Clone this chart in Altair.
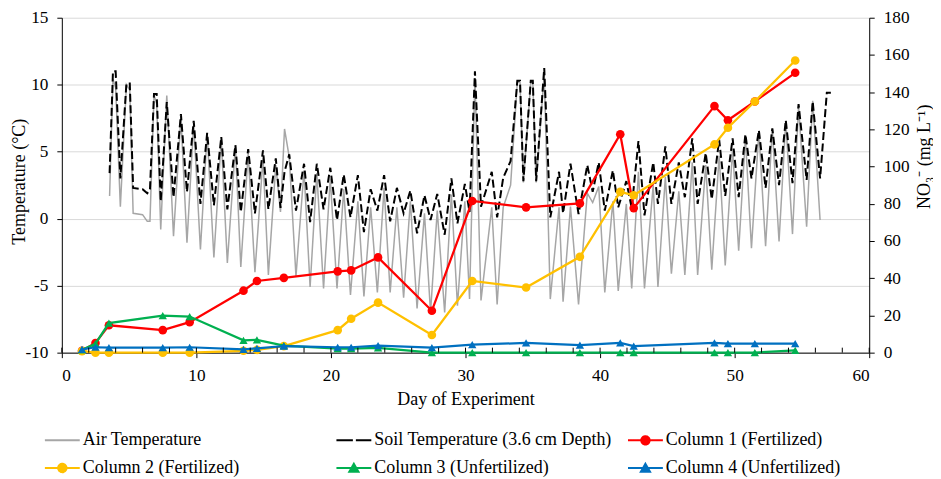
import altair as alt
import pandas as pd

# ---------------- data ----------------
day = [3.55, 3.8, 4.0, 4.35, 4.8, 5.05, 5.3, 6.0, 6.35, 6.55, 6.85, 7.05, 7.35, 7.8, 8.3, 8.85,
       9.3, 9.8, 10.3, 10.8, 11.3, 11.85, 12.3, 12.9, 13.3, 13.85, 14.35, 14.95, 15.35, 15.9,
       16.25, 16.55, 16.9, 17.4, 18.0, 18.45, 18.95, 19.45, 19.95, 20.45, 20.95, 21.45, 22.0,
       22.45, 22.95, 23.45, 23.95, 24.4, 24.9, 25.4, 25.9, 26.4, 26.95, 27.4, 27.9, 28.45,
       28.95, 29.4, 29.95, 30.3, 30.7, 31.15, 31.95, 32.35, 32.8, 33.35, 33.85, 34.05, 34.3,
       34.85, 35.0, 35.25, 35.85, 36.3, 36.95, 37.25, 37.8, 38.4, 39.05, 39.45, 39.9, 40.35,
       40.95, 41.35, 41.95, 42.35, 42.85, 43.3, 43.95, 44.3, 44.85, 45.3, 45.85, 46.3, 46.85,
       47.25, 47.85, 48.3, 48.85, 49.3, 49.85, 50.3, 50.8, 51.25, 51.8, 52.3, 52.8, 53.3, 53.8,
       54.3, 54.75, 55.35, 55.8, 56.35, 56.85, 57.15]

air = [1.7, 10.4, 9.8, 0.9, 10.0, 9.6, 0.4, 0.3, -0.2, -0.2, 9.2, 8.6, -0.8, 9.2, -1.3, 7.6,
       -1.8, 7.1, -2.3, 6.4, -2.9, 5.9, -3.3, 5.4, -3.6, 4.9, -4.0, 4.5, -4.2, 4.0,
       0.5, 6.7, 4.6, -4.3, 3.6, -5.1, 3.4, -5.2, 3.0, -5.2, 2.2, -5.7, 1.3,
       -5.8, 0.85, -5.5, 2.3, -5.5, 0.85, -5.9, 1.3, -6.7, 0.4, -7.0, 0.6, -7.0,
       1.8, -6.5, 1.3, -6.0, 10.5, -6.1, 0.85, -6.4, 0.85, 2.5, 10.2, 10.2, 2.7,
       10.2, 10.2, 2.7, 10.8, -6.0, 0.85, -6.2, 0.9, -6.4, 1.9, 1.2, 2.4, -5.5,
       1.3, -5.4, 1.1, -5.2, 3.5, -5.2, 2.5, -5.1, 3.1, -4.1, 2.05, -4.2, 4.2,
       -4.2, 4.0, -3.8, 4.7, -3.5, 5.2, -2.4, 6.1, -2.2, 6.5, -2.05, 6.7, -1.7, 7.3,
       -1.15, 8.4, -0.6, 8.8, -0.1, None, None]

soil = [3.4, 11.0, 11.0, 3.0, 10.1, 10.1, 2.3, 2.2, 1.9, 2.2, 9.3, 9.3, 1.3, 8.7, 1.6, 7.8,
        2.0, 7.3, 1.1, 6.4, 1.0, 6.1, 0.7, 5.5, 0.5, 5.2, 0.4, 5.1, 0.7, 4.5,
        0.8, 3.5, 4.8, 0.6, 4.1, -0.25, 4.1, 0.7, 3.8, -0.1, 3.3, 0.1, 3.25,
        -1.0, 2.2, 0.6, 3.25, -0.2, 2.3, 0.4, 2.1, -1.1, 1.75, -0.1, 1.85, -1.2,
        3.0, -0.35, 2.6, 0.5, 11.0, 0.9, 3.5, 0.1, 3.05, 4.3, 10.3, 10.3, 2.8,
        10.3, 10.3, 2.8, 11.25, 0.1, 3.5, 0.4, 4.1, 0.35, 4.0, 2.0, 4.2, 0.6,
        3.6, 0.85, 2.8, 0.8, 5.8, 0.25, 4.2, 1.1, 5.4, 1.1, 4.2, 1.6, 6.0,
        1.1, 4.9, 1.45, 5.9, 1.7, 6.0, 1.6, 6.3, 3.0, 6.6, 2.3, 6.75, 2.5, 7.35,
        2.65, 8.55, 2.9, 8.75, 3.0, 9.4, 9.4]

no3_day = [1.5, 2.5, 3.5, 7.5, 9.5, 13.5, 14.5, 16.5, 20.5, 21.5, 23.5, 27.5, 30.5, 34.5,
           38.5, 41.5, 42.5, 48.5, 49.5, 51.5, 54.5]
col1 = [1.0, 5.2, 14.7, 12.1, 16.4, 33.3, 38.5, 40.2, 43.7, 44.2, 51.2, 22.5, 81.5, 78.1,
        80.2, 117.4, 77.7, 132.5, 124.9, 135.0, 150.4]
col2 = [0.8, 0.0, 0.0, 0.0, 0.0, 1.0, 1.5, 3.5, 12.1, 18.2, 26.9, 9.5, 38.5, 35.0,
        51.5, 86.4, 84.6, 111.9, 120.9, 135.0, 157.0]
col3 = [1.5, 4.8, 15.9, 19.9, 19.4, 6.6, 6.9, 3.8, 2.1, 2.1, 2.6, 0.0, 0.0, 0.0,
        0.0, 0.0, 0.0, 0.0, 0.0, 0.0, 1.2]
col4 = [1.8, 2.9, 2.7, 2.7, 2.9, 1.7, 2.3, 3.5, 2.9, 2.9, 3.8, 2.7, 4.3, 5.2,
        4.0, 5.2, 3.5, 5.2, 4.9, 4.9, 4.9]

names = ["Air Temperature", "Soil Temperature (3.6 cm Depth)", "Column 1 (Fertilized)",
         "Column 2 (Fertilized)", "Column 3 (Unfertilized)", "Column 4 (Unfertilized)"]
colors = ["#A6A6A6", "#000000", "#FF0000", "#FFC000", "#00B050", "#0070C0"]

x_ticks = [0, 10, 20, 30, 40, 50, 60]
minor_ticks = [0, 2, 4, 6, 8, 10, 12, 14, 16, 18, 20, 22, 24, 26, 28, 30, 32, 34, 36, 38, 40,
               42, 44, 46, 48, 50, 52, 54, 56, 58, 60]
t_ticks = [-10, -5, 0, 5, 10, 15]
n_ticks = [0, 20, 40, 60, 80, 100, 120, 140, 160, 180]

# ---------------- layout ----------------
TOP = 9
W, H = 810, 336
FONT = "Liberation Serif"

temp_df = pd.DataFrame({"day": day, "air": air, "soil": soil})

def no3_df(vals):
    return pd.DataFrame({"day": no3_day, "no3": vals})

xenc = alt.X("day:Q", scale=alt.Scale(domain=[0, 60], nice=False),
             axis=alt.Axis(values=x_ticks, title="Day of Experiment", grid=False,
                           tickSize=5, labelPadding=9, titleY=47, titleBaseline="middle"))

t_axis = alt.Axis(orient="left", values=t_ticks, grid=True, gridColor="#D9D9D9",
                  title="Temperature (°C)", labelExpr="toString(datum.value)",
                  tickSize=5, labelPadding=9, titleAngle=270, titleX=-42, titleY=164,
                  titleBaseline="middle")
t_scale = alt.Scale(domain=[-10, 15], nice=False)

n_axis = alt.Axis(orient="right", values=n_ticks, grid=False,
                  title="NO₃⁻  (mg L⁻¹)", tickSize=5, labelPadding=9,
                  titleAngle=270, titleX=55, titleY=139, titleBaseline="middle")
n_scale = alt.Scale(domain=[0, 180], nice=False)

air_l = alt.Chart(temp_df).mark_line(color=colors[0], strokeWidth=1.5).encode(
    x=xenc, y=alt.Y("air:Q", scale=t_scale, axis=t_axis))
soil_l = alt.Chart(temp_df).mark_line(color=colors[1], strokeWidth=2, strokeDash=[8, 3.5]).encode(
    x=xenc, y=alt.Y("soil:Q", scale=t_scale, axis=t_axis))
temp_layer = alt.layer(air_l, soil_l)

no3_layers = []
for vals, col, shp, sz in [(col1, colors[2], "circle", 75), (col2, colors[3], "circle", 75),
                           (col3, colors[4], "triangle-up", 70), (col4, colors[5], "triangle-up", 70)]:
    base = alt.Chart(no3_df(vals))
    ln = base.mark_line(color=col, strokeWidth=2.25).encode(
        x=xenc, y=alt.Y("no3:Q", scale=n_scale, axis=n_axis))
    pt = base.mark_point(color=col, filled=True, opacity=1, shape=shp, size=sz).encode(
        x=xenc, y=alt.Y("no3:Q", scale=n_scale, axis=n_axis))
    no3_layers += [ln, pt]
no3_layer = alt.layer(*no3_layers)

# inner halves of axis ticks (major ticks cross, minor ticks inside)
tick_df = pd.DataFrame({"day": minor_ticks})
ticks = alt.Chart(tick_df).mark_rule(color="black", strokeWidth=1).encode(
    x=xenc, y=alt.value(H), y2=alt.value(H - 5))

# legend (drawn by the library from an empty, filtered layer with explicit domains)
L = 4.375
line_p = f"M-{L},0L{L},0"
circ = "M-1.05,0A1.05,1.05,0,1,1,1.05,0A1.05,1.05,0,1,1,-1.05,0Z"
tri = "M0,-1.05L1.15,0.95L-1.15,0.95Z"
paths = [line_p, line_p, line_p + circ, line_p + circ, line_p + tri, line_p + tri]
dashes = [[1, 0], [16.5, 3], [1, 0], [1, 0], [1, 0], [1, 0]]

leg_def = alt.Legend(title=None, orient="none", legendX=-8.5, legendY=415, columns=3,
                     direction="horizontal", gridAlign="all", columnPadding=11.5,
                     rowPadding=9.7, labelOffset=11.5, labelFontSize=18, labelFont=FONT,
                     labelColor="black", symbolSize=64, symbolStrokeWidth=2, padding=0,
                     labelLimit=400, symbolOpacity=1)
legend_df = pd.DataFrame({"series": names})
leg = alt.Chart(legend_df).transform_filter("false").mark_point(
    filled=True, opacity=1, size=64, strokeWidth=2).encode(
    fill=alt.Fill("series:N", scale=alt.Scale(domain=names, range=colors), legend=leg_def),
    stroke=alt.Stroke("series:N", scale=alt.Scale(domain=names, range=colors), legend=leg_def),
    shape=alt.Shape("series:N", scale=alt.Scale(domain=names, range=paths), legend=leg_def),
    strokeDash=alt.StrokeDash("series:N", scale=alt.Scale(domain=names, range=dashes), legend=leg_def),
)

chart = alt.layer(temp_layer, no3_layer, ticks, leg).resolve_scale(y="independent").properties(
    width=W, height=H,
    padding={"left": 54, "top": TOP, "right": 64, "bottom": 470 - TOP - H},
    autosize=alt.AutoSizeParams(type="none"),
).configure_view(stroke=None).configure_axis(
    labelFont=FONT, titleFont=FONT, labelFontSize=17.3, titleFontSize=18,
    titleFontWeight="normal", labelColor="black", titleColor="black",
    domainColor="black", tickColor="black", domainWidth=1, tickWidth=1,
    gridWidth=1,
).configure_legend(labelFont=FONT)

chart.save("out.html", embed_options={"renderer": "svg", "actions": False})
